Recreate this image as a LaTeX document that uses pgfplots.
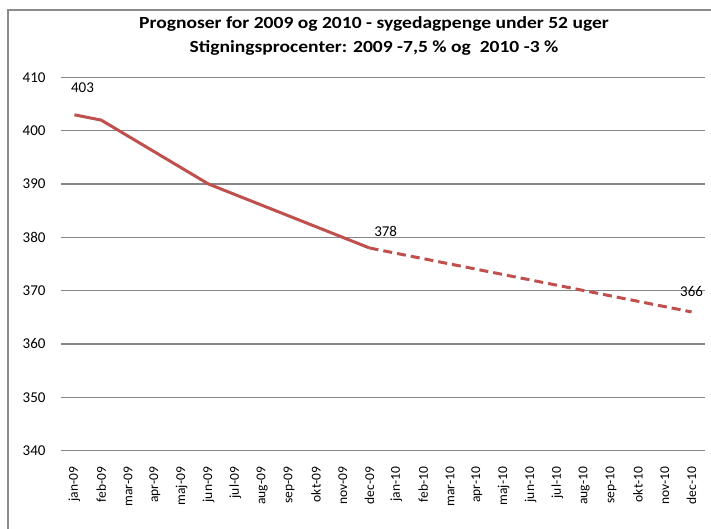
\documentclass[border=0pt]{standalone}
\usepackage{pgfplots}
\pgfplotsset{compat=1.18}
\usepackage{fontspec}
\setmainfont{Carlito}
\definecolor{exred}{RGB}{192,80,77}
\definecolor{gridgray}{RGB}{134,134,134}
\begin{document}
\begin{tikzpicture}
\useasboundingbox (0,0) rectangle (711pt,529pt);
\clip (0,0) rectangle (711pt,529pt);
\fill[white] (0,0) rectangle (711pt,529pt);
\draw[black!45, line width=1.2pt] (8pt,-20pt) rectangle (740pt,519pt);
\node[font=\fontsize{17}{19}\selectfont\bfseries] at (374pt,505pt) {\scalebox{1.15}[1]{Prognoser for 2009 og 2010 - sygedagpenge under 52 uger}};
\node[font=\fontsize{17}{19}\selectfont\bfseries] at (374pt,481pt) {\scalebox{1.15}[1]{Stigningsprocenter: 2009 -7,5 \% og~~2010 -3 \%}};
\begin{axis}[
  at={(61pt,78.5pt)}, anchor=south west,
  scale only axis, width=644pt, height=373pt,
  xmin=-0.5, xmax=23.5, ymin=340, ymax=410,
  ytick={340,350,...,410},
  xtick={0,...,23},
  xticklabels={jan-09,feb-09,mar-09,apr-09,maj-09,jun-09,jul-09,aug-09,sep-09,okt-09,nov-09,dec-09,jan-10,feb-10,mar-10,apr-10,maj-10,jun-10,jul-10,aug-10,sep-10,okt-10,nov-10,dec-10},
  x tick label style={rotate=90, anchor=east, font=\fontsize{13.5}{15}\selectfont},
  xticklabel shift=13pt,
  y tick label style={font=\fontsize{15}{17}\selectfont},
  yticklabel shift=12pt,
  /pgf/number format/assume math mode=true,
  major tick length=0pt,
  axis line style={draw=none},
  ymajorgrids, grid style={gridgray, line width=1.2pt},
  clip=false,
]
\addplot[exred, line width=3pt, line join=round] coordinates {
(0,403) (1,402) (2,399) (3,396) (4,393) (5,390) (6,388) (7,386) (8,384) (9,382) (10,380) (11,378)};
\addplot[exred, line width=3pt, dash pattern=on 9pt off 5pt] coordinates {
(11,378) (12,377) (13,376) (14,375) (15,374) (16,373) (17,372) (18,371) (19,370) (20,369) (21,368) (22,367) (23,366)};
\node[font=\fontsize{15}{17}\selectfont] at (axis cs:0.3,408.1) {403};
\node[font=\fontsize{15}{17}\selectfont] at (axis cs:11.6,381.1) {378};
\node[font=\fontsize{15}{17}\selectfont] at (axis cs:23,369.9) {366};
\end{axis}
\end{tikzpicture}
\end{document}
